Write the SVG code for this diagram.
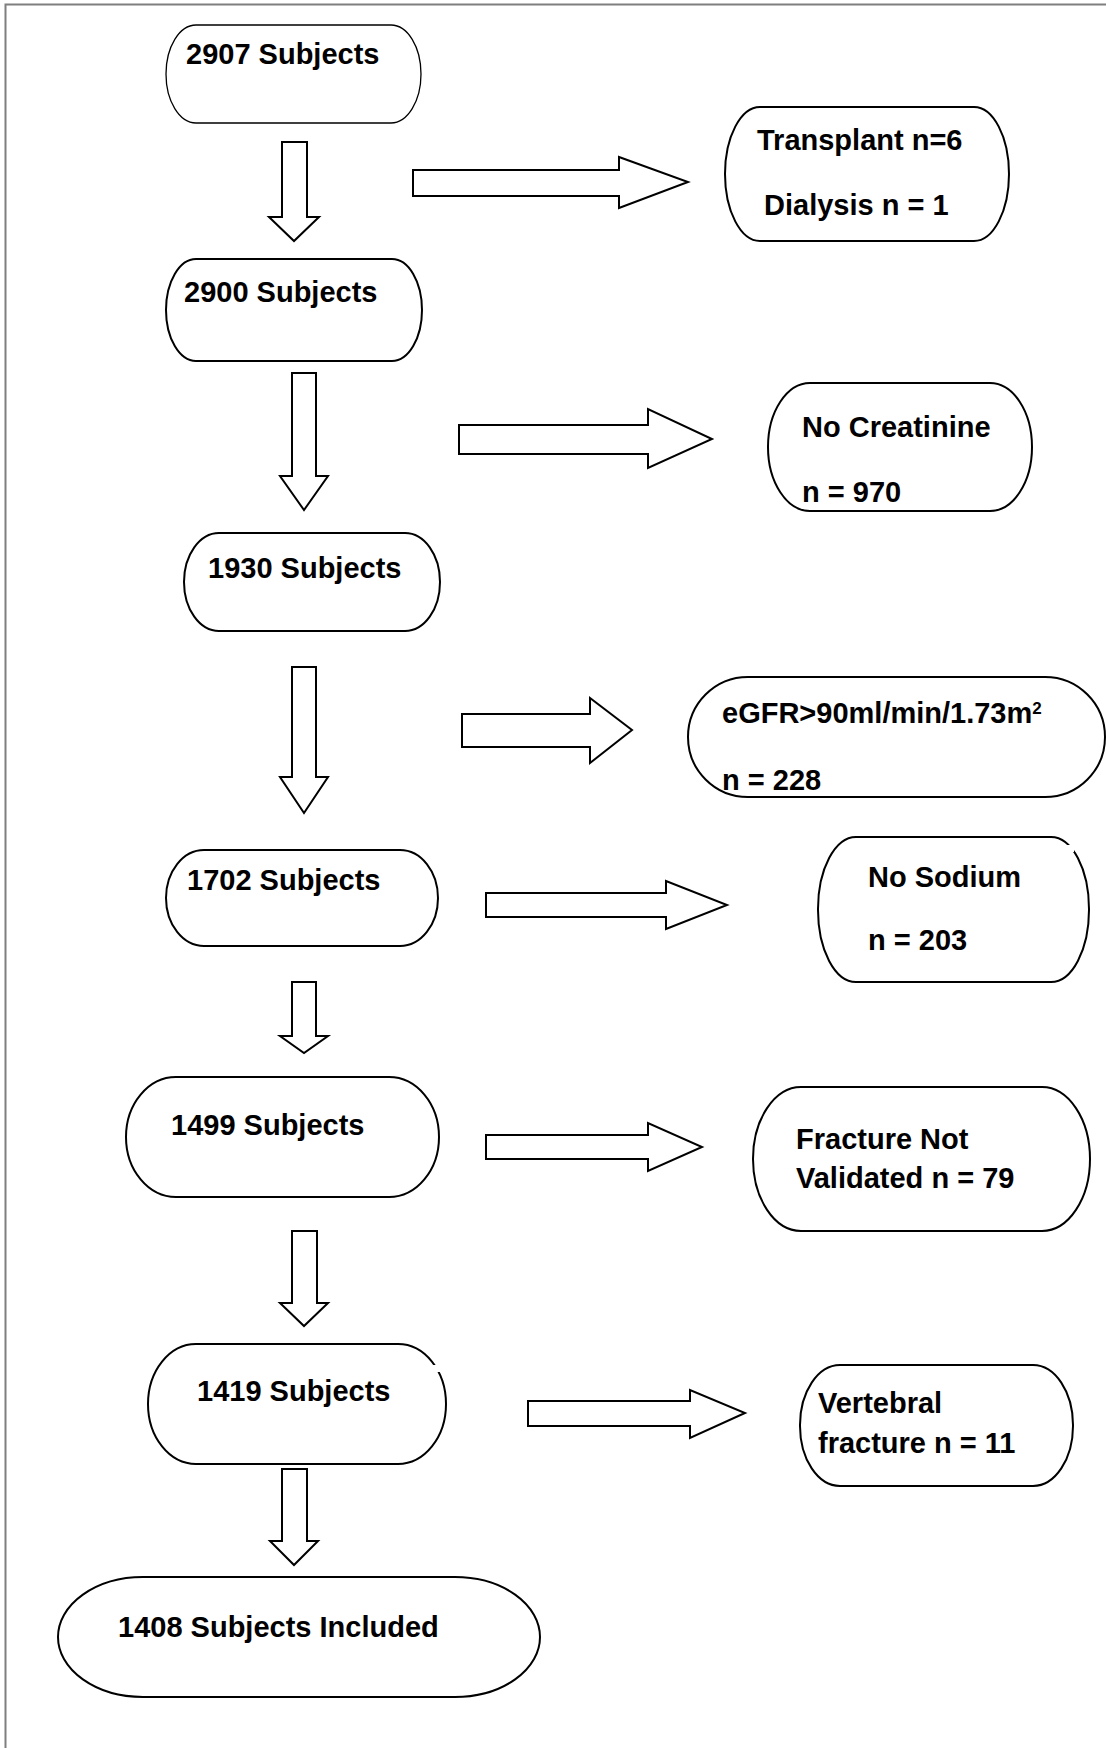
<svg xmlns="http://www.w3.org/2000/svg" width="1106" height="1748" viewBox="0 0 1106 1748">
<style>
.bg{fill:#ffffff}
.frame{fill:none;stroke:#7f7f7f;stroke-width:2}
.node{fill:#ffffff;stroke:#000000;stroke-width:2}
.thin{stroke-width:1.3}
.gap{fill:#ffffff;stroke:none}
.arr{fill:#ffffff;stroke:#000000;stroke-width:2;stroke-linejoin:miter}
.t{font-family:"Liberation Sans",Arial,Helvetica,sans-serif;font-weight:bold;font-size:29px;fill:#000000}
.sup{font-size:17px}
</style>
<rect class="bg" x="0" y="0" width="1106" height="1748"/>
<path class="frame" d="M5.5,1748 V4.5 H1106"/>

<g id="connectors">
  <polygon id="down1" class="arr" points="282,142 307,142 307,217 319,217 294,241 269,217 282,217"/>
  <polygon id="down2" class="arr" points="292,373 316,373 316,476 328,476 304,510 280,476 292,476"/>
  <polygon id="down3" class="arr" points="292,667 316,667 316,777 328,777 304,813 280,777 292,777"/>
  <polygon id="down4" class="arr" points="292,982 316,982 316,1036 328,1036 304,1053 280,1036 292,1036"/>
  <polygon id="down5" class="arr" points="292,1231 317,1231 317,1303 328,1303 304,1326 280,1303 292,1303"/>
  <polygon id="down6" class="arr" points="282,1469 307,1469 307,1541 318,1541 294,1565 270,1541 282,1541"/>
  <polygon id="right1" class="arr" points="413,170 619,170 619,157 688,182 619,208 619,196 413,196"/>
  <polygon id="right2" class="arr" points="459,425 648,425 648,409 712,439 648,468 648,454 459,454"/>
  <polygon id="right3" class="arr" points="462,714 590,714 590,698 632,730 590,763 590,747 462,747"/>
  <polygon id="right4" class="arr" points="486,893 666,893 666,881 727,905 666,929 666,917 486,917"/>
  <polygon id="right5" class="arr" points="486,1135 648,1135 648,1123 702,1147 648,1171 648,1159 486,1159"/>
  <polygon id="right6" class="arr" points="528,1401 690,1401 690,1390 745,1413 690,1438 690,1426 528,1426"/>
</g>

<g id="n2907">
  <rect class="node thin" x="166" y="25" width="255" height="98" rx="30" ry="49"/>
  <text class="t" x="186" y="64">2907 Subjects</text>
</g>
<g id="n2900">
  <rect class="node" x="166" y="259" width="256" height="102" rx="30" ry="51"/>
  <text class="t" x="184" y="302">2900 Subjects</text>
</g>
<g id="n1930">
  <rect class="node" x="184" y="533" width="256" height="98" rx="35" ry="49"/>
  <text class="t" x="208" y="578">1930 Subjects</text>
</g>
<g id="n1702">
  <rect class="node" x="166" y="850" width="272" height="96" rx="38" ry="48"/>
  <text class="t" x="187" y="890">1702 Subjects</text>
</g>
<g id="n1499">
  <rect class="node" x="126" y="1077" width="313" height="120" rx="50" ry="60"/>
  <text class="t" x="171" y="1135">1499 Subjects</text>
</g>
<g id="n1419">
  <rect class="node" x="148" y="1344" width="298" height="120" rx="48" ry="60"/>
  <rect class="gap" x="432" y="1365" width="10" height="7"/>
  <text class="t" x="197" y="1401">1419 Subjects</text>
</g>
<g id="n1408">
  <rect class="node" x="58" y="1577" width="482" height="120" rx="85" ry="60"/>
  <text class="t" x="118" y="1637">1408 Subjects Included</text>
</g>

<g id="transplant">
  <rect class="node" x="725" y="107" width="284" height="134" rx="35" ry="67"/>
  <text class="t" x="757" y="150">Transplant n=6</text>
  <text class="t" x="764" y="215">Dialysis n = 1</text>
</g>
<g id="nocreatinine">
  <rect class="node" x="768" y="383" width="264" height="128" rx="42" ry="64"/>
  <text class="t" x="802" y="437">No Creatinine</text>
  <text class="t" x="802" y="502">n = 970</text>
</g>
<g id="egfr">
  <rect class="node" x="688" y="677" width="417" height="120" rx="60" ry="60"/>
  <text class="t" x="722" y="723">eGFR&gt;90ml/min/1.73m<tspan class="sup" dy="-9">2</tspan></text>
  <text class="t" x="722" y="790">n = 228</text>
</g>
<g id="nosodium">
  <rect class="node" x="818" y="837" width="271" height="145" rx="38" ry="72"/>
  <rect class="gap" x="1064" y="845" width="10" height="7"/>
  <text class="t" x="868" y="887">No Sodium</text>
  <text class="t" x="868" y="950">n = 203</text>
</g>
<g id="fracture">
  <rect class="node" x="753" y="1087" width="337" height="144" rx="48" ry="72"/>
  <text class="t" x="796" y="1149">Fracture Not</text>
  <text class="t" x="796" y="1188">Validated n = 79</text>
</g>
<g id="vertebral">
  <rect class="node" x="800" y="1365" width="273" height="121" rx="40" ry="60"/>
  <text class="t" x="818" y="1413">Vertebral</text>
  <text class="t" x="818" y="1453">fracture n = 11</text>
</g>
</svg>
